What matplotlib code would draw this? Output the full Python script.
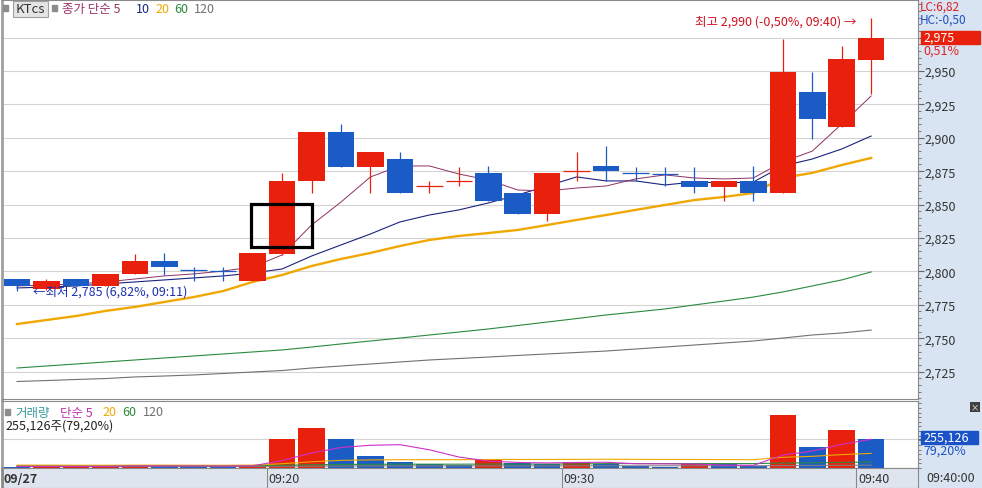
import numpy as np
import matplotlib
matplotlib.use("Agg")
import matplotlib.pyplot as plt
from matplotlib.patches import Rectangle
from matplotlib.ticker import MultipleLocator, NullFormatter
import matplotlib.transforms as mtransforms

plt.rcParams['font.family'] = ['Noto Sans CJK KR', 'DejaVu Sans']

# minute candles 09:11 .. 09:40
times = ['09:%02d' % m for m in range(11, 41)]
opens = [2794, 2787, 2794, 2789, 2798, 2808, 2801, 2800, 2793, 2813,
         2868, 2904, 2878, 2884, 2864, 2868, 2874, 2859, 2843, 2875,
         2879, 2874, 2873, 2868, 2863, 2868, 2859, 2934, 2908, 2958]
highs = [2794, 2794, 2794, 2798, 2813, 2814, 2803, 2803, 2814, 2874,
         2904, 2910, 2889, 2889, 2868, 2878, 2879, 2859, 2874, 2889,
         2894, 2878, 2878, 2878, 2868, 2879, 2974, 2949, 2969, 2990]
lows = [2785, 2786, 2788, 2789, 2798, 2797, 2793, 2793, 2793, 2812,
        2859, 2878, 2859, 2859, 2859, 2864, 2853, 2843, 2838, 2868,
        2868, 2868, 2864, 2859, 2853, 2853, 2859, 2899, 2908, 2933]
closes = [2789, 2793, 2789, 2798, 2808, 2803, 2801, 2800, 2814, 2868,
          2904, 2878, 2889, 2859, 2864, 2868, 2853, 2843, 2874, 2875,
          2875, 2874, 2873, 2863, 2868, 2859, 2949, 2914, 2959, 2975]

ma5 = [2789.1, 2789.8, 2790.6, 2792.1, 2794.3, 2796.6, 2798.1, 2800.3, 2803.3, 2812.3,
       2834.7, 2851.9, 2870.7, 2878.9, 2878.9, 2872.9, 2868.4, 2860.9, 2860.2, 2862.4,
       2863.9, 2869.2, 2872.2, 2869.9, 2869.2, 2869.9, 2882.0, 2890.0, 2910.3, 2931.3]
ma10 = [2787.6, 2788.3, 2789.1, 2790.6, 2792.1, 2793.6, 2795.1, 2796.6, 2798.8, 2801.8,
        2811.5, 2819.8, 2828.0, 2837.0, 2842.2, 2846.0, 2851.2, 2857.2, 2863.9, 2870.7,
        2867.7, 2867.7, 2864.7, 2866.9, 2866.2, 2866.9, 2878.9, 2884.1, 2891.6, 2901.3]
ma20 = [2760.6, 2763.6, 2766.6, 2770.4, 2773.4, 2777.1, 2780.8, 2785.3, 2792.1, 2797.3,
        2804.0, 2809.3, 2813.8, 2819.0, 2823.5, 2826.5, 2828.7, 2831.0, 2834.7, 2838.5,
        2842.2, 2846.0, 2849.7, 2853.4, 2855.7, 2858.7, 2870.0, 2873.7, 2879.6, 2884.9]
ma60 = [2727.7, 2729.2, 2730.7, 2732.2, 2733.7, 2735.2, 2736.7, 2738.2, 2739.7, 2741.2,
        2743.4, 2745.7, 2747.9, 2750.1, 2752.4, 2754.6, 2756.9, 2759.5, 2762.1, 2764.7,
        2767.4, 2769.6, 2771.9, 2774.9, 2777.8, 2780.8, 2784.6, 2789.1, 2793.6, 2799.6]
ma120 = [2717.6, 2718.3, 2719.1, 2719.8, 2721.0, 2721.7, 2722.5, 2723.6, 2724.7, 2725.8,
         2727.7, 2729.2, 2730.7, 2732.2, 2733.7, 2734.8, 2735.9, 2737.1, 2738.2, 2739.3,
         2740.4, 2741.9, 2743.4, 2744.9, 2746.4, 2747.9, 2750.1, 2752.4, 2753.9, 2756.1]

volume = [12000, 15000, 16000, 17000, 30000, 14000, 12000, 10000, 30000, 255000,
          343000, 252000, 106000, 55000, 35000, 26000, 79000, 47000, 35000, 53000,
          35000, 15000, 11000, 35000, 33000, 20000, 460000, 185000, 326000, 255126]
vol_ma5 = [14000, 14000, 14000, 15000, 18000, 18000, 18000, 17000, 19000, 64000,
           130000, 178000, 197000, 202000, 158000, 95000, 60000, 48000, 44000, 48000,
           50000, 37000, 36000, 34000, 25000, 23000, 112000, 147000, 205000, 249000]
vol_ma20 = [25000, 25000, 24000, 24000, 25000, 25000, 24000, 24000, 25000, 37000,
            54000, 66000, 70000, 72000, 72000, 72000, 74000, 74000, 74000, 75000,
            76000, 75000, 74000, 74000, 73000, 72000, 93000, 101000, 116000, 127000]
vol_ma60 = [20000, 20000, 20000, 20000, 20000, 20000, 20000, 20000, 21000, 24000,
            28000, 31000, 32000, 33000, 33000, 33000, 34000, 34000, 34000, 35000,
            38000, 38000, 38000, 38000, 38000, 38000, 43000, 45000, 48000, 52000]
vol_ma120 = [14000, 14000, 14000, 14000, 14000, 14000, 14000, 14000, 14000, 15000,
             16000, 17000, 18000, 18000, 18000, 18000, 18000, 18000, 18000, 19000,
             19000, 19000, 19000, 19000, 19000, 19000, 21000, 22000, 23000, 25000]

price_ticks = [2725, 2750, 2775, 2800, 2825, 2850, 2875, 2900, 2925, 2950]
grid_levels = price_ticks + [2975]
time_marks = ['09:20', '09:30', '09:40']

RED = '#e8200c'
BLUE = '#1b5bc6'
W, H = 982, 489


def fx(x):
    return x / W


def fy(y):
    return 1 - y / H


fig = plt.figure(figsize=(W / 100, H / 100), dpi=100)

# right side strip background
axr = fig.add_axes([fx(918), 0, 1 - fx(918), 1], zorder=-5)
axr.set_facecolor('#d8e4f2')
axr.set_xticks([]); axr.set_yticks([])
for s in axr.spines.values():
    s.set_visible(False)

ax = fig.add_axes([fx(2), fy(400), fx(918) - fx(2), fy(1) - fy(400)])
axv = fig.add_axes([fx(2), fy(469), fx(918) - fx(2), fy(402) - fy(469)], sharex=ax)
axd = fig.add_axes([fx(2), fy(489), fx(918) - fx(2), fy(469) - fy(489)], sharex=ax)

idx = np.arange(len(times))
o = np.array(opens); c = np.array(closes)
hi = np.array(highs); lo = np.array(lows)

# candle colours: up red, down blue, flat compared with previous close
cols = []
for i in idx:
    if c[i] > o[i]:
        cols.append(RED)
    elif c[i] < o[i]:
        cols.append(BLUE)
    else:
        cols.append(RED if i > 0 and c[i] >= c[i - 1] else BLUE)

# moving averages (behind candles)
ax.plot(idx, ma120, color='#707070', lw=0.8, zorder=2)
ax.plot(idx, ma60, color='#2a8a3e', lw=0.8, zorder=2)
ax.plot(idx, ma20, color='#f0a800', lw=1.7, zorder=2)
ax.plot(idx, ma10, color='#1c237e', lw=0.8, zorder=2)
ax.plot(idx, ma5, color='#8e3064', lw=0.7, zorder=2)

ax.vlines(idx, lo, hi, colors=cols, lw=0.9, zorder=3)
body_h = np.abs(c - o)
ax.bar(idx, body_h, bottom=np.minimum(o, c), width=0.9, color=cols, linewidth=0, zorder=4)
for i in idx:
    if body_h[i] == 0:
        ax.hlines(o[i], i - 0.45, i + 0.45, colors=cols[i], lw=0.9, zorder=4)

ax.set_xlim(-0.51, 30.59)
ax.set_ylim(2704.5, 3003.1)
ax.yaxis.tick_right()
ax.set_yticks(grid_levels)
ax.set_yticklabels([f"{v:,}" for v in price_ticks] + [''])
ax.yaxis.set_minor_locator(MultipleLocator(5))
ax.tick_params(axis='y', which='major', length=4, color='#666666', labelsize=9,
               labelcolor='#333333', pad=1)
ax.tick_params(axis='y', which='minor', length=2, color='#666666')
ax.tick_params(axis='x', bottom=False, labelbottom=False)
ax.grid(axis='y', color='#d4d4d4', lw=0.8)
ax.set_axisbelow(True)
for s in ['top', 'bottom', 'right']:
    ax.spines[s].set_color('#8a8a8a')
ax.spines['left'].set_color('#a0a0a0')
ax.spines['left'].set_linewidth(2)

# black highlight box
ax.add_patch(Rectangle((7.96, 2818.3), 2.04, 32.1, fill=False, ec='black', lw=2.3, zorder=6))

# high / low annotations
ax.text(28.5, 2987.5, '최고 2,990 (-0,50%, 09:40) →', color='#d01020', fontsize=9,
        ha='right', va='center', zorder=7)
ax.text(0.55, 2785, '←최저 2,785 (6,82%, 09:11)', color='#1a2fb0', fontsize=9,
        ha='left', va='center', zorder=7)

# volume panel
vcols = [BLUE] + [RED if volume[i] >= volume[i - 1] else BLUE for i in range(1, len(volume))]
axv.bar(idx, volume, width=0.9, color=vcols, linewidth=0, zorder=2)
axv.plot(idx, vol_ma120, color='#808080', lw=0.8, zorder=3)
axv.plot(idx, vol_ma60, color='#2a8a3e', lw=0.8, zorder=3)
axv.plot(idx, vol_ma20, color='#f0a800', lw=0.8, zorder=3)
axv.plot(idx, vol_ma5, color='#d030c8', lw=0.8, zorder=3)
axv.set_ylim(0, 580600)
axv.yaxis.tick_right()
axv.set_yticks([250000])
axv.yaxis.set_major_formatter(NullFormatter())
axv.yaxis.set_minor_locator(MultipleLocator(40000))
axv.tick_params(axis='y', which='both', length=2, color='#666666')
axv.tick_params(axis='x', bottom=False, labelbottom=False)
axv.grid(axis='y', color='#d4d4d4', lw=0.8)
axv.set_axisbelow(True)
for s in ['top', 'bottom', 'right']:
    axv.spines[s].set_color('#8a8a8a')
axv.spines['left'].set_color('#a0a0a0')
axv.spines['left'].set_linewidth(2)

# date strip
axd.set_facecolor('#dee5ee')
axd.set_yticks([])
axd.tick_params(axis='x', bottom=False, labelbottom=False)
for s in axd.spines.values():
    s.set_color('#8a8a8a')
axd.spines['left'].set_linewidth(2)
axd.set_ylim(0, 1)
for t in time_marks:
    k = times.index(t)
    axd.axvline(k - 0.5, color='#8a8a8a', lw=0.8)
    axd.text(k - 0.45, 0.45, t, fontsize=9, color='#333333', va='center', ha='left')
axd.text(0.002, 0.45, '09/27', transform=axd.transAxes, fontsize=9, fontweight='bold',
         color='#333333', va='center', ha='left')

# header texts, main panel
fig.patches.append(Rectangle((fx(3), fy(12)), fx(5), fy(6) - fy(12), transform=fig.transFigure,
                             color='#8c8c8c'))
fig.patches.append(Rectangle((fx(13), fy(18)), fx(35), fy(2) - fy(18), transform=fig.transFigure,
                             fc='#e4e4e4', ec='#a0a0a0', lw=0.8))
fig.text(fx(16), fy(9.5), 'KTcs', fontsize=9.5, color='#333333', va='center')
fig.patches.append(Rectangle((fx(52), fy(12)), fx(5), fy(6) - fy(12), transform=fig.transFigure,
                             color='#8c8c8c'))
fig.text(fx(62), fy(9.5), '종가 단순 5', fontsize=9, color='#993366', va='center')
fig.text(fx(136), fy(9.5), '10', fontsize=9, color='#1c237e', va='center')
fig.text(fx(155), fy(9.5), '20', fontsize=9, color='#f0a800', va='center')
fig.text(fx(174), fy(9.5), '60', fontsize=9, color='#2a8a3e', va='center')
fig.text(fx(194), fy(9.5), '120', fontsize=9, color='#707070', va='center')

# header texts, volume panel
fig.patches.append(Rectangle((fx(5), fy(416)), fx(5), fy(410) - fy(416), transform=fig.transFigure,
                             color='#8c8c8c'))
fig.text(fx(15), fy(413), '거래량', fontsize=9, color='#3a9a9a', va='center')
fig.text(fx(60), fy(413), '단순 5', fontsize=9, color='#c030b0', va='center')
fig.text(fx(102), fy(413), '20', fontsize=9, color='#f0a800', va='center')
fig.text(fx(122), fy(413), '60', fontsize=9, color='#2a8a3e', va='center')
fig.text(fx(143), fy(413), '120', fontsize=9, color='#707070', va='center')
fig.text(fx(5), fy(426), '255,126주(79,20%)', fontsize=9, color='#222222', va='center')

# right strip labels
fig.text(fx(920), fy(7), 'LC:6,82', fontsize=8.5, color='#e02020', va='center')
fig.text(fx(920), fy(20), 'HC:-0,50', fontsize=8.5, color='#2050c0', va='center')
blend = mtransforms.blended_transform_factory(fig.transFigure, ax.transData)
fig.patches.append(Rectangle((fx(921), closes[-1] - 4.9), fx(59), 9.8, transform=blend,
                             color='#e8200c', zorder=5))
fig.text(fx(923), closes[-1], f"{closes[-1]:,}", transform=blend, fontsize=9,
         color='white', va='center', zorder=6)
fig.text(fx(923), closes[-1] - 9.5, '0,51%', transform=blend, fontsize=9,
         color='#e02020', va='center')

fig.patches.append(Rectangle((fx(921), fy(445)), fx(57), fy(432) - fy(445),
                             transform=fig.transFigure, color='#1a52c8', zorder=5))
fig.text(fx(923), fy(438.5), f"{volume[-1]:,}", fontsize=9, color='white', va='center', zorder=6)
fig.text(fx(923), fy(451), '79,20%', fontsize=9, color='#1a52c8', va='center')
fig.text(fx(975), fy(408), '×', fontsize=6, color='white', ha='center', va='center',
         bbox=dict(facecolor='#404040', edgecolor='none', pad=0.5))
fig.text(fx(926), fy(479), '09:40:00', fontsize=9, color='#333333', va='center')

fig.savefig('out.png', dpi=100)
